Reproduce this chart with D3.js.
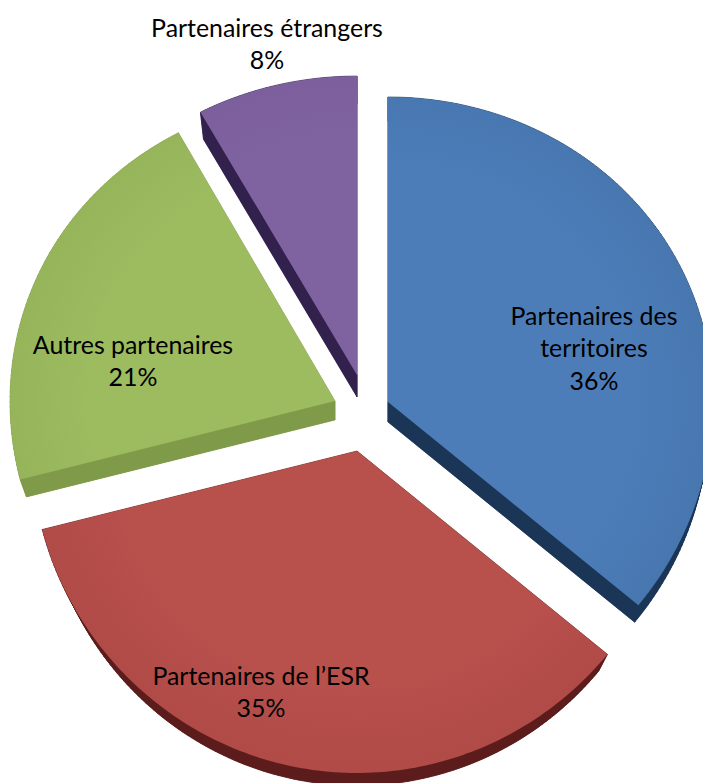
<!DOCTYPE html>
<html><head><meta charset="utf-8">
<script src="https://cdn.jsdelivr.net/npm/d3@7"></script>
<style>html,body{margin:0;padding:0;background:#fff;overflow:hidden}svg{display:block}text{font-family:Lato,"Noto Sans",sans-serif;fill:#000}</style>
</head><body><div id="chart"></div>
<script>
const categories = ["Partenaires des territoires", "Partenaires de l’ESR", "Autres partenaires", "Partenaires étrangers"];
const values = [36, 35, 21, 8];
const labelLines = [["Partenaires des", "territoires", "36%"], ["Partenaires de l’ESR", "35%"], ["Autres partenaires", "21%"], ["Partenaires étrangers", "8%"]];
const topColors = ["#4c7db8", "#b8504c", "#9dbb5f", "#7f62a0"];
const rimColors = ["#4877b0", "#b04b48", "#96b45a", "#7b5e9b"];
const wallColors = ["#1b3557", "#5c1c1c", "#7f9a49", "#32214d"];

const W = 703, H = 783;
const cx = 363, cy = 418, rx = 325, ry = 313.5, persp = 0.027;
const apexShift = [[25, -16], [-6, 33], [-28, -17], [-6, -43]];
const radiusY = [1, 1, 1, 0.98];
const depth = [20, 24, 19, 22];
const shrink = [0.985, 0.965, 0.98, 0.98];
const labelPos = [[594, 316], [261, 676], [133, 345], [267, 28]];
const lineH = 32.5;

const svg = d3.select("#chart").append("svg").attr("width", W).attr("height", H);
const defs = svg.append("defs");
const x = d3.scaleLinear().domain([-1, 1]).range([-rx, rx]);
const y = d3.scaleLinear().domain([-1, 1]).range([-ry, ry]);
const pie = d3.pie().sort(null).value(d => d);
const arcs = pie(values);
const line = d3.line().x(d => d[0]).y(d => d[1]);

function project(a, k, sy) {
  const u = Math.sin(a), v = -Math.cos(a);
  return [x(u) * k, y(v) * (1 + persp * v) * k * sy];
}
function slicePts(d, k, sy) {
  const n = Math.max(8, Math.round((d.endAngle - d.startAngle) * 60));
  const pts = [[0, 0]];
  d3.range(n + 1).forEach(i => pts.push(project(d.startAngle + (d.endAngle - d.startAngle) * i / n, k, sy)));
  pts.push([0, 0]);
  return pts;
}
arcs.forEach((d, i) => {
  const g = defs.append("radialGradient").attr("id", "g" + i).attr("gradientUnits", "userSpaceOnUse")
    .attr("cx", 0).attr("cy", 0).attr("r", 1).attr("gradientTransform", `scale(${rx},${ry})`);
  g.append("stop").attr("offset", "0%").attr("stop-color", topColors[i]);
  g.append("stop").attr("offset", "75%").attr("stop-color", topColors[i]);
  g.append("stop").attr("offset", "100%").attr("stop-color", rimColors[i]);
});
const slices = svg.selectAll("g.slice").data(arcs).join("g").attr("class", "slice")
  .attr("transform", (d, i) => `translate(${cx + apexShift[i][0]},${cy + apexShift[i][1]})`);

// extruded body: one quad per outline segment, then the lowered copy, then the top face
slices.each(function (d, i) {
  const g = d3.select(this);
  const a = slicePts(d, 1, radiusY[i]);
  const b = slicePts(d, shrink[i], radiusY[i]).map(p => [p[0], p[1] + depth[i]]);
  g.selectAll("path.wall").data(a.slice(0, -1)).join("path").attr("class", "wall")
    .attr("d", (p, j) => line([p, a[j + 1], b[j + 1], b[j]]) + "Z")
    .attr("fill", wallColors[i]).attr("stroke", wallColors[i]).attr("stroke-width", 0.6);
  g.append("path").attr("d", line(b) + "Z").attr("fill", wallColors[i]);
  g.append("path").attr("d", line(a) + "Z").attr("fill", `url(#g${i})`);
});

labelPos.forEach((p, i) => {
  svg.append("text").attr("text-anchor", "middle").attr("font-size", 24.9)
    .attr("transform", `translate(${p[0]},${p[1]})`)
    .selectAll("tspan").data(labelLines[i]).join("tspan")
    .attr("x", 0).attr("y", (d, j) => j * lineH).attr("dy", "0.35em").text(d => d);
});
</script></body></html>
